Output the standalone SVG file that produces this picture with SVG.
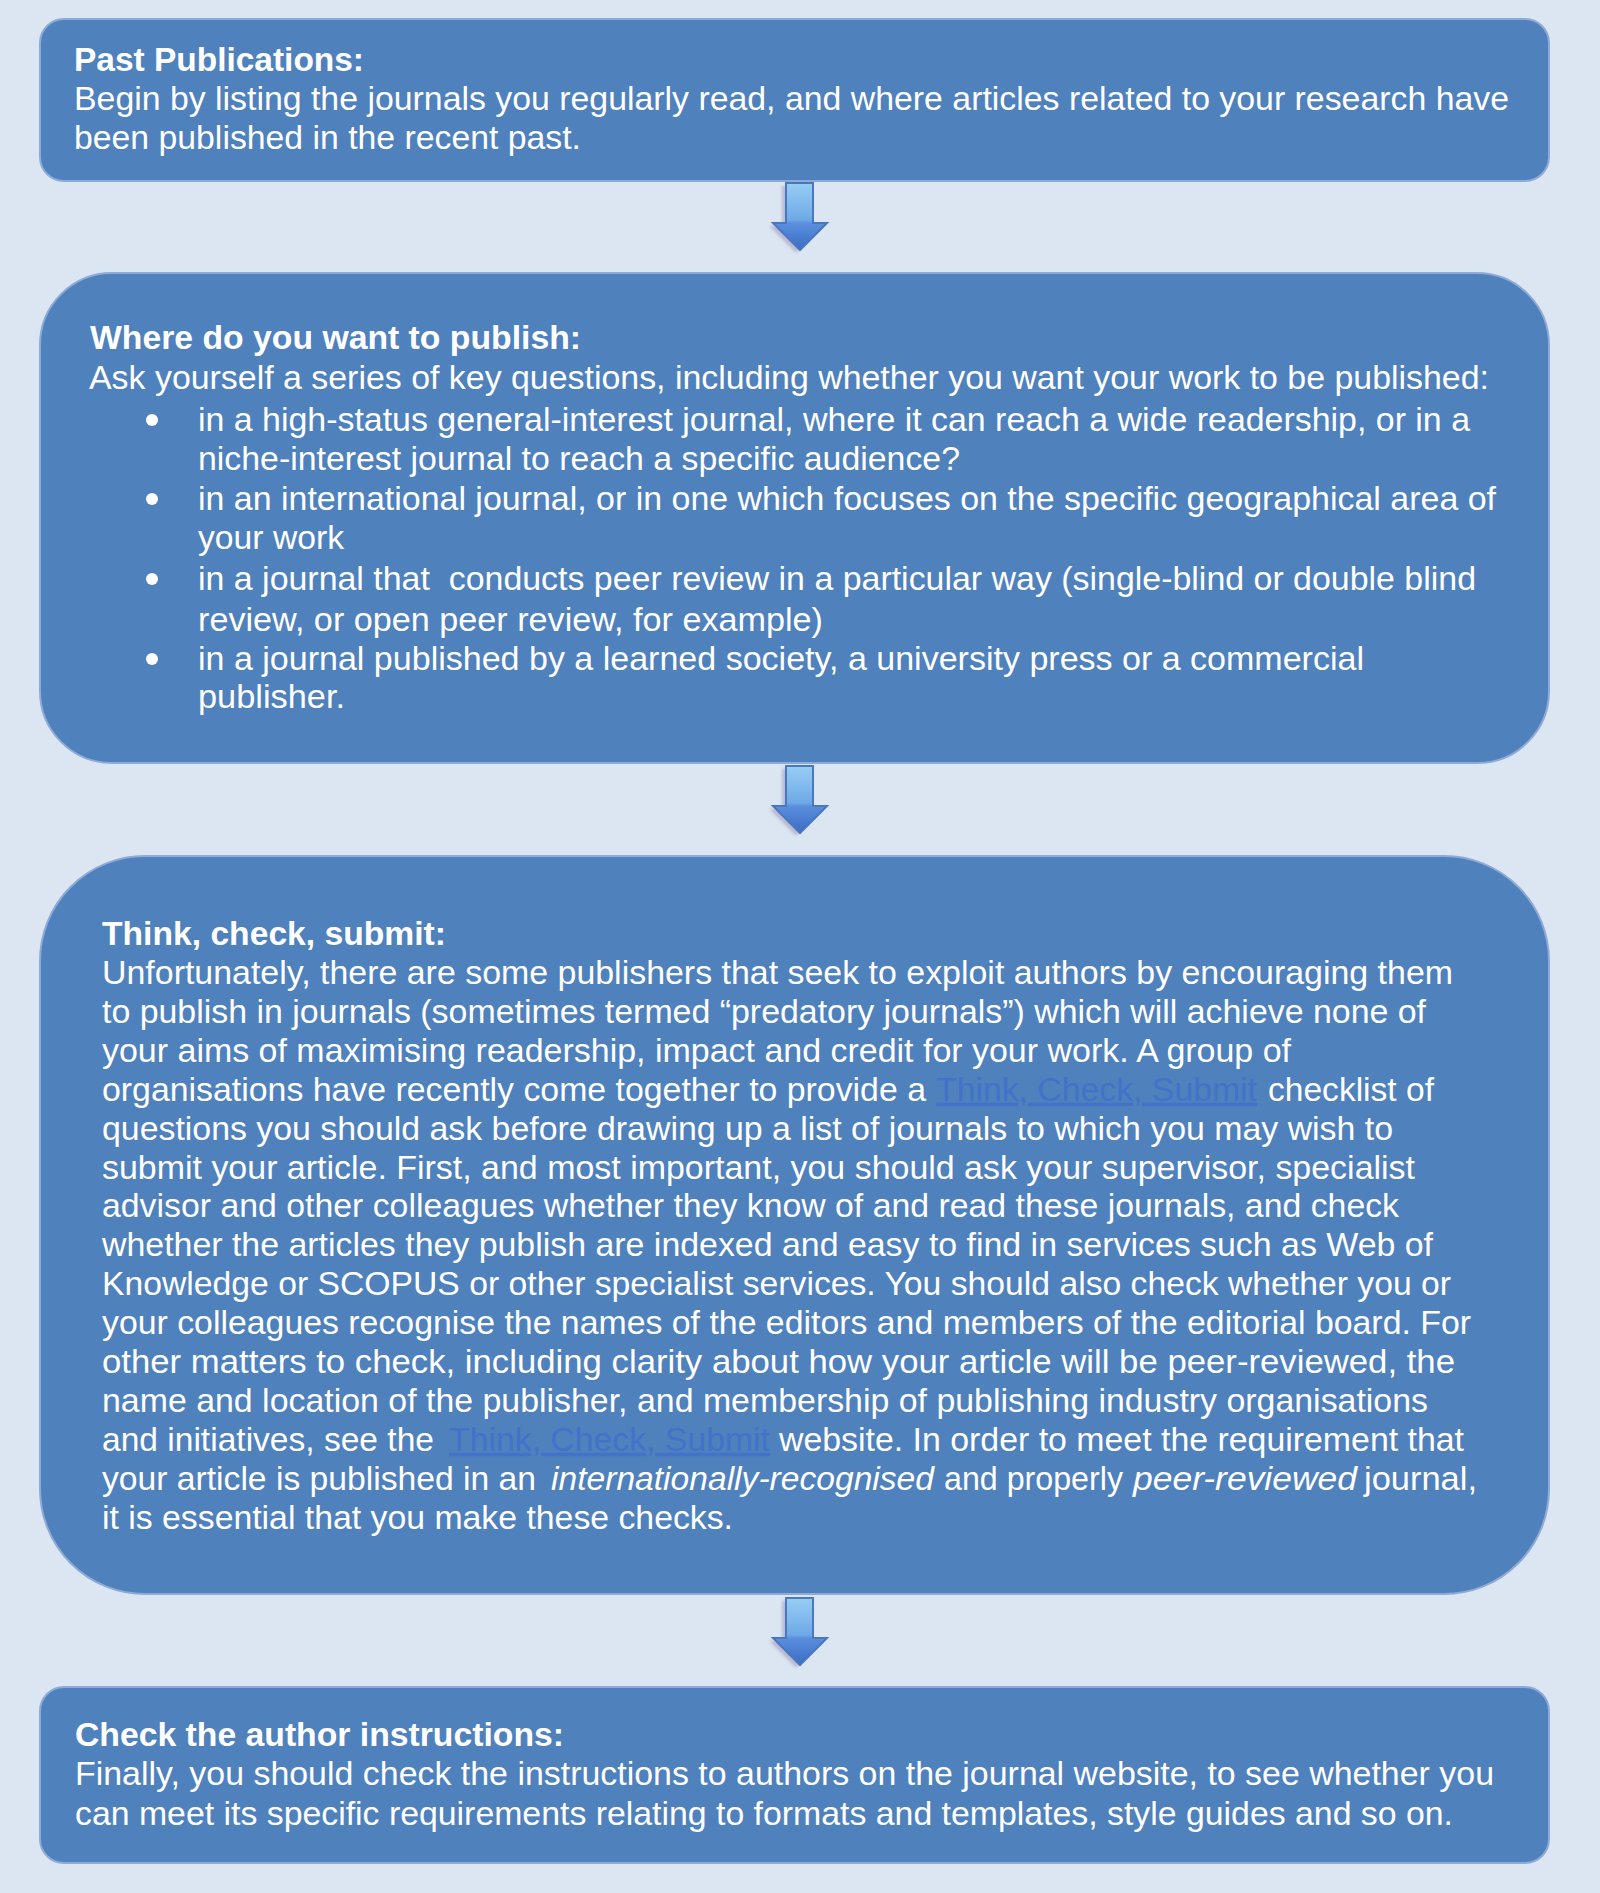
<svg xmlns="http://www.w3.org/2000/svg" width="1600" height="1893" viewBox="0 0 1600 1893">
<defs>
<style>
.box{fill:#4f81bd;stroke:#8eaad6;stroke-width:2}
.t{font-family:"Liberation Sans",Arial,sans-serif;font-size:34px;fill:#ffffff}
.b{font-weight:bold}
.i{font-style:italic}
.lnk{fill:#4272c9;text-decoration:underline}
.dot{fill:#ffffff}
</style>
<linearGradient id="ag" x1="0" y1="0" x2="0" y2="1">
<stop offset="0" stop-color="#96cef4"/>
<stop offset="0.55" stop-color="#6fa9e6"/>
<stop offset="0.6" stop-color="#5b8fdc"/>
<stop offset="1" stop-color="#3a6dc6"/>
</linearGradient>
<filter id="sh" x="-30%" y="-30%" width="160%" height="160%">
<feGaussianBlur stdDeviation="1.5"/>
</filter>
<path id="arr" d="M786,0 L813,0 L813,40 L827,40 L800,67 L773,40 L786,40 Z"/>
</defs>
<rect x="0" y="0" width="1600" height="1893" fill="#dce6f2"/>

<g id="connectors">
<g transform="translate(0,183)">
<use href="#arr" transform="translate(-4,3)" fill="#9a8fb3" opacity="0.5" filter="url(#sh)"/>
<use href="#arr" fill="url(#ag)" stroke="#4a78c0" stroke-width="2"/>
</g>
<g transform="translate(0,766)">
<use href="#arr" transform="translate(-4,3)" fill="#9a8fb3" opacity="0.5" filter="url(#sh)"/>
<use href="#arr" fill="url(#ag)" stroke="#4a78c0" stroke-width="2"/>
</g>
<g transform="translate(0,1598)">
<use href="#arr" transform="translate(-4,3)" fill="#9a8fb3" opacity="0.5" filter="url(#sh)"/>
<use href="#arr" fill="url(#ag)" stroke="#4a78c0" stroke-width="2"/>
</g>
</g>

<g id="node-past">
<rect class="box" x="40" y="19" width="1509" height="162" rx="24" ry="24"/>
<text class="t b" x="74" y="71" textLength="290" lengthAdjust="spacingAndGlyphs">Past Publications:</text>
<text class="t" x="74" y="110" textLength="1435" lengthAdjust="spacingAndGlyphs">Begin by listing the journals you regularly read, and where articles related to your research have</text>
<text class="t" x="74" y="149" textLength="507" lengthAdjust="spacingAndGlyphs">been published in the recent past.</text>
</g>

<g id="node-where">
<rect class="box" x="40" y="273" width="1509" height="490" rx="72" ry="72"/>
<text class="t b" x="90" y="349" textLength="491" lengthAdjust="spacingAndGlyphs">Where do you want to publish:</text>
<text class="t" x="89" y="389" textLength="1400" lengthAdjust="spacingAndGlyphs">Ask yourself a series of key questions, including whether you want your work to be published:</text>
<circle class="dot" cx="152" cy="420" r="6"/>
<text class="t" x="198" y="431" textLength="1272" lengthAdjust="spacingAndGlyphs">in a high-status general-interest journal, where it can reach a wide readership, or in a</text>
<text class="t" x="198" y="470" textLength="762" lengthAdjust="spacingAndGlyphs">niche-interest journal to reach a specific audience?</text>
<circle class="dot" cx="152" cy="499" r="6"/>
<text class="t" x="198" y="510" textLength="1298" lengthAdjust="spacingAndGlyphs">in an international journal, or in one which focuses on the specific geographical area of</text>
<text class="t" x="198" y="549" textLength="146" lengthAdjust="spacingAndGlyphs">your work</text>
<circle class="dot" cx="152" cy="579" r="6"/>
<text class="t" x="198" y="590" textLength="1278" lengthAdjust="spacingAndGlyphs" xml:space="preserve">in a journal that  conducts peer review in a particular way (single-blind or double blind</text>
<text class="t" x="198" y="631" textLength="625" lengthAdjust="spacingAndGlyphs">review, or open peer review, for example)</text>
<circle class="dot" cx="152" cy="659" r="6"/>
<text class="t" x="198" y="670" textLength="1166" lengthAdjust="spacingAndGlyphs">in a journal published by a learned society, a university press or a commercial</text>
<text class="t" x="198" y="708" textLength="147" lengthAdjust="spacingAndGlyphs">publisher.</text>
</g>

<g id="node-think">
<rect class="box" x="40" y="856" width="1509" height="738" rx="105" ry="105"/>
<text class="t b" x="102" y="945" textLength="344" lengthAdjust="spacingAndGlyphs">Think, check, submit:</text>
<text class="t" x="102" y="984" textLength="1351" lengthAdjust="spacingAndGlyphs">Unfortunately, there are some publishers that seek to exploit authors by encouraging them</text>
<text class="t" x="102" y="1022.9" textLength="1324" lengthAdjust="spacingAndGlyphs">to publish in journals (sometimes termed “predatory journals”) which will achieve none of</text>
<text class="t" x="102" y="1061.8" textLength="1189" lengthAdjust="spacingAndGlyphs">your aims of maximising readership, impact and credit for your work. A group of</text>
<text class="t" x="102" y="1100.7" textLength="824" lengthAdjust="spacingAndGlyphs">organisations have recently come together to provide a</text>
<text class="t lnk" x="936" y="1100.7" textLength="321" lengthAdjust="spacingAndGlyphs">Think, Check, Submit</text>
<text class="t" x="1268" y="1100.7" textLength="166" lengthAdjust="spacingAndGlyphs">checklist of</text>
<text class="t" x="102" y="1139.6" textLength="1291" lengthAdjust="spacingAndGlyphs">questions you should ask before drawing up a list of journals to which you may wish to</text>
<text class="t" x="102" y="1178.5" textLength="1313" lengthAdjust="spacingAndGlyphs">submit your article. First, and most important, you should ask your supervisor, specialist</text>
<text class="t" x="102" y="1217.4" textLength="1297" lengthAdjust="spacingAndGlyphs">advisor and other colleagues whether they know of and read these journals, and check</text>
<text class="t" x="102" y="1256.3" textLength="1331" lengthAdjust="spacingAndGlyphs">whether the articles they publish are indexed and easy to find in services such as Web of</text>
<text class="t" x="102" y="1295.2" textLength="1349" lengthAdjust="spacingAndGlyphs">Knowledge or SCOPUS or other specialist services. You should also check whether you or</text>
<text class="t" x="102" y="1334.1" textLength="1369" lengthAdjust="spacingAndGlyphs">your colleagues recognise the names of the editors and members of the editorial board. For</text>
<text class="t" x="102" y="1373" textLength="1353" lengthAdjust="spacingAndGlyphs">other matters to check, including clarity about how your article will be peer-reviewed, the</text>
<text class="t" x="102" y="1411.9" textLength="1326" lengthAdjust="spacingAndGlyphs">name and location of the publisher, and membership of publishing industry organisations</text>
<text class="t" x="102" y="1450.8" textLength="332" lengthAdjust="spacingAndGlyphs">and initiatives, see the</text>
<text class="t lnk" x="449" y="1450.8" textLength="321" lengthAdjust="spacingAndGlyphs">Think, Check, Submit</text>
<text class="t" x="779" y="1450.8" textLength="685" lengthAdjust="spacingAndGlyphs">website. In order to meet the requirement that</text>
<text class="t" x="102" y="1489.7" textLength="434" lengthAdjust="spacingAndGlyphs">your article is published in an</text>
<text class="t i" x="551" y="1489.7" textLength="383" lengthAdjust="spacingAndGlyphs">internationally-recognised</text>
<text class="t" x="944" y="1489.7" textLength="179" lengthAdjust="spacingAndGlyphs">and properly</text>
<text class="t i" x="1133" y="1489.7" textLength="224" lengthAdjust="spacingAndGlyphs">peer-reviewed</text>
<text class="t" x="1364" y="1489.7" textLength="113" lengthAdjust="spacingAndGlyphs">journal,</text>
<text class="t" x="102" y="1528.6" textLength="631" lengthAdjust="spacingAndGlyphs">it is essential that you make these checks.</text>
</g>

<g id="node-check">
<rect class="box" x="40" y="1687" width="1509" height="176" rx="24" ry="24"/>
<text class="t b" x="75" y="1746" textLength="489" lengthAdjust="spacingAndGlyphs">Check the author instructions:</text>
<text class="t" x="75" y="1785" textLength="1419" lengthAdjust="spacingAndGlyphs">Finally, you should check the instructions to authors on the journal website, to see whether you</text>
<text class="t" x="75" y="1825" textLength="1378" lengthAdjust="spacingAndGlyphs">can meet its specific requirements relating to formats and templates, style guides and so on.</text>
</g>
</svg>
